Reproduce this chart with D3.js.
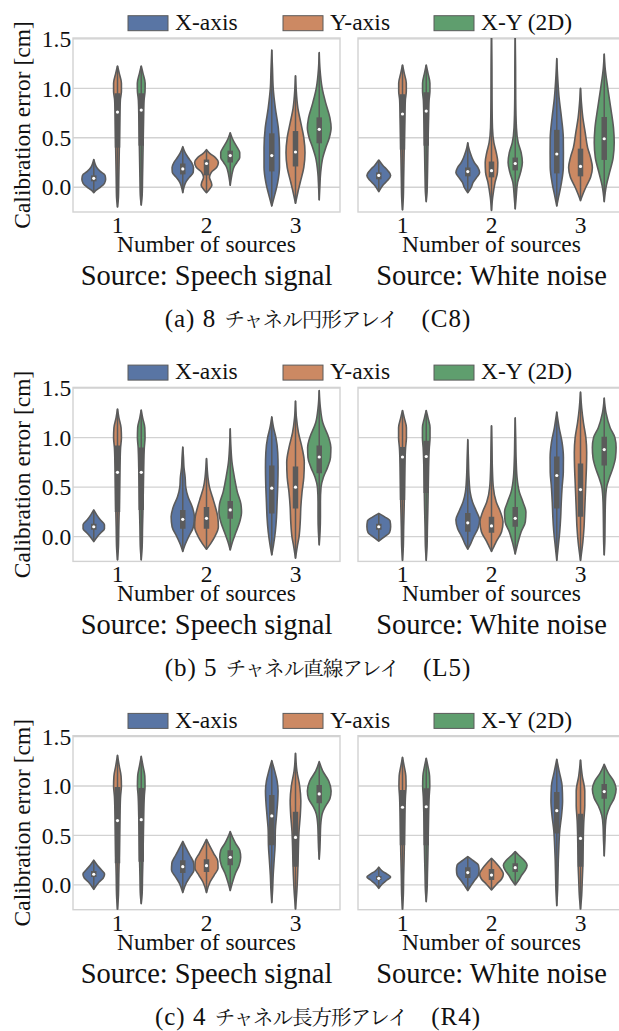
<!DOCTYPE html>
<html><head><meta charset="utf-8">
<script src="https://cdn.jsdelivr.net/npm/d3@7"></script>
<style>
body{margin:0;background:#fff}svg{display:block}
.s{font-family:"Liberation Serif","DejaVu Serif",serif;fill:#111}
.j{font-family:"Noto Serif CJK JP","Noto Sans CJK JP",serif;fill:#111}
</style>
</head><body>
<script>
// ---------------- DATA ----------------
const captions = [
  ["(a) 8 ", "チャネル円形アレイ", "(C8)"],
  ["(b) 5 ", "チャネル直線アレイ", "(L5)"],
  ["(c) 4 ", "チャネル長方形アレイ", "(R4)"]
];
const sources = ["Source: Speech signal", "Source: White noise"];
const categories = ["1", "2", "3"];
const hues = ["X-axis", "Y-axis", "X-Y (2D)"];
const yTicks = [0.0, 0.5, 1.0, 1.5];
const xLabel = "Number of sources";
const yLabel = "Calibration error [cm]";

// each violin: [group, hue, q1, median, q3, density profile [[value, relative width], ...]]
const c8Speech = [
  [0,0,.06,.09,.12,[[.28,0],[.24,.1],[.2,.25],[.16,.55],[.12,.95],[.08,1],[.04,.9],[0,.55],[-.03,.2],[-.055,0]]],
  [0,1,.4,.76,.95,[[1.225,0],[1.15,.15],[1.05,.33],[.97,.33],[.88,.24],[.7,.2],[.5,.17],[.3,.14],[.1,.11],[-.1,.08],[-.2,0]]],
  [0,2,.42,.78,.95,[[1.225,0],[1.15,.15],[1.05,.33],[.97,.32],[.88,.24],[.7,.2],[.5,.17],[.3,.14],[.1,.11],[-.08,.08],[-.18,0]]],
  [1,0,.13,.185,.24,[[.41,0],[.35,.2],[.3,.45],[.25,.75],[.2,.9],[.15,.88],[.1,.55],[.05,.25],[0,.1],[-.055,0]]],
  [1,1,.12,.24,.28,[[.38,0],[.34,.3],[.3,.75],[.25,1],[.2,.85],[.15,.4],[.1,.25],[.05,.4],[.02,.45],[-.02,.25],[-.055,0]]],
  [1,2,.25,.32,.37,[[.55,0],[.5,.15],[.45,.35],[.4,.6],[.35,.8],[.3,.8],[.25,.55],[.2,.3],[.15,.18],[.1,.1],[.02,0]]],
  [2,0,.16,.32,.545,[[1.386,0],[1.2,.06],[1.0,.12],[.8,.3],[.6,.55],[.4,.65],[.2,.65],[.05,.5],[-.1,.2],[-.19,0]]],
  [2,1,.21,.356,.568,[[1.127,0],[1.0,.05],[.8,.2],[.65,.45],[.5,.7],[.35,.8],[.2,.7],[.05,.4],[-.05,.2],[-.162,0]]],
  [2,2,.444,.585,.706,[[1.36,0],[1.2,.06],[1.0,.25],[.85,.55],[.7,.9],[.6,1],[.5,.85],[.4,.55],[.3,.3],[.15,.12],[0,.05],[-.128,0]]]
];
const c8Noise = [
  [0,0,.08,.12,.15,[[.275,0],[.22,.35],[.17,.75],[.12,1],[.07,.75],[.02,.35],[-.045,0]]],
  [0,1,.38,.74,.94,[[1.235,0],[1.15,.15],[1.05,.32],[.97,.32],[.88,.24],[.7,.2],[.5,.16],[.3,.13],[.1,.1],[-.1,.07],[-.23,0]]],
  [0,2,.42,.77,.96,[[1.235,0],[1.15,.15],[1.05,.31],[.97,.31],[.88,.24],[.7,.2],[.5,.16],[.3,.13],[.1,.1],[-.05,.07],[-.145,0]]],
  [1,0,.11,.158,.2,[[.45,0],[.4,.08],[.35,.2],[.3,.35],[.25,.55],[.2,.85],[.15,1],[.1,.75],[.05,.45],[0,.3],[-.055,0]]],
  [1,1,.1,.168,.26,[[1.52,0],[1.2,.03],[.9,.04],[.6,.08],[.45,.2],[.35,.4],[.25,.53],[.15,.5],[.05,.3],[-.1,.1],[-.235,0]]],
  [1,2,.17,.24,.3,[[1.52,0],[1.2,.03],[.9,.04],[.6,.1],[.45,.25],[.35,.5],[.25,.6],[.15,.45],[.05,.2],[-.1,.08],[-.22,0]]],
  [2,0,.14,.336,.58,[[1.3,0],[1.1,.08],[.9,.2],[.7,.4],[.5,.55],[.35,.56],[.2,.55],[.05,.4],[-.1,.15],[-.19,0]]],
  [2,1,.11,.21,.39,[[1.0,0],[.85,.08],[.7,.2],[.55,.4],[.4,.6],[.3,.85],[.2,1],[.1,.85],[0,.45],[-.07,.2],[-.135,0]]],
  [2,2,.276,.49,.71,[[1.346,0],[1.2,.08],[1.0,.3],[.8,.55],[.6,.78],[.45,.84],[.3,.75],[.15,.45],[0,.15],[-.145,0]]]
];
const l5Speech = [
  [0,0,.07,.1,.13,[[.27,0],[.22,.25],[.17,.55],[.12,.9],[.08,.9],[.04,.6],[0,.3],[-.05,0]]],
  [0,1,.25,.65,.92,[[1.29,0],[1.2,.12],[1.1,.3],[1.0,.33],[.9,.26],[.7,.21],[.5,.18],[.3,.15],[.1,.11],[-.1,.08],[-.235,0]]],
  [0,2,.27,.65,.9,[[1.28,0],[1.2,.12],[1.1,.3],[1.0,.32],[.9,.26],[.7,.21],[.5,.18],[.3,.15],[.1,.11],[-.1,.08],[-.235,0]]],
  [1,0,.08,.175,.27,[[.905,0],[.8,.06],[.7,.1],[.6,.2],[.5,.25],[.4,.45],[.3,.8],[.2,.98],[.1,.9],[0,.5],[-.08,.2],[-.15,0]]],
  [1,1,.08,.185,.3,[[.79,0],[.7,.05],[.6,.12],[.5,.25],[.4,.5],[.3,.75],[.2,.95],[.1,1],[0,.7],[-.07,.35],[-.127,0]]],
  [1,2,.18,.27,.36,[[1.09,0],[.9,.06],[.75,.15],[.6,.35],[.45,.6],[.33,.9],[.25,.95],[.15,.8],[.05,.5],[-.05,.2],[-.134,0]]],
  [2,0,.235,.49,.72,[[1.21,0],[1.1,.15],[1.0,.35],[.85,.5],[.7,.53],[.5,.5],[.35,.45],[.2,.4],[.05,.3],[-.08,.15],[-.185,0]]],
  [2,1,.285,.5,.71,[[1.37,0],[1.2,.08],[1.05,.25],[.9,.55],[.75,.74],[.6,.7],[.45,.55],[.3,.45],[.15,.4],[0,.3],[-.1,.15],[-.218,0]]],
  [2,2,.64,.805,.92,[[1.476,0],[1.3,.1],[1.15,.3],[1.0,.8],[.9,.98],[.8,.95],[.7,.7],[.6,.35],[.5,.15],[.35,.1],[.2,.1],[.05,.07],[-.083,0]]]
];
const l5Noise = [
  [0,0,.07,.1,.13,[[.235,0],[.2,.5],[.16,.95],[.1,1],[.04,.9],[0,.5],[-.045,0]]],
  [0,1,.37,.805,.905,[[1.275,0],[1.2,.15],[1.1,.33],[1.0,.33],[.9,.26],[.7,.2],[.5,.17],[.3,.14],[.1,.1],[-.1,.07],[-.24,0]]],
  [0,2,.44,.81,.97,[[1.275,0],[1.2,.15],[1.1,.32],[1.0,.32],[.9,.26],[.7,.2],[.5,.17],[.3,.14],[.1,.1],[-.1,.07],[-.24,0]]],
  [1,0,.05,.14,.24,[[.98,0],[.8,.05],[.6,.1],[.45,.2],[.35,.4],[.25,.75],[.17,1],[.08,.85],[0,.5],[-.07,.25],[-.127,0]]],
  [1,1,.04,.108,.2,[[1.12,0],[.9,.04],[.7,.07],[.5,.15],[.35,.4],[.25,.75],[.15,.97],[.05,.85],[-.05,.4],[-.1,.2],[-.15,0]]],
  [1,2,.1,.185,.3,[[1.2,0],[1.0,.04],[.8,.07],[.6,.15],[.45,.35],[.35,.65],[.25,.9],[.15,.85],[.05,.5],[-.05,.25],[-.175,0]]],
  [2,0,.285,.618,.81,[[1.26,0],[1.1,.2],[.95,.45],[.8,.56],[.65,.55],[.5,.45],[.35,.38],[.2,.33],[.05,.25],[-.1,.12],[-.24,0]]],
  [2,1,.2,.476,.74,[[1.46,0],[1.3,.1],[1.15,.25],[1.0,.45],[.85,.52],[.7,.5],[.55,.45],[.4,.4],[.25,.35],[.1,.3],[-.05,.2],[-.24,0]]],
  [2,2,.72,.88,1.01,[[1.4,0],[1.25,.15],[1.1,.5],[1.0,.9],[.9,1],[.8,.95],[.7,.75],[.6,.45],[.5,.2],[.35,.1],[.15,.07],[-.05,.05],[-.185,0]]]
];
const r4Speech = [
  [0,0,.08,.108,.14,[[.25,0],[.2,.3],[.15,.65],[.11,.91],[.07,.8],[.03,.45],[-.044,0]]],
  [0,1,.22,.65,.99,[[1.31,0],[1.2,.15],[1.1,.3],[1.0,.33],[.9,.26],[.7,.21],[.5,.18],[.3,.15],[.1,.11],[-.1,.08],[-.25,0]]],
  [0,2,.235,.66,.98,[[1.30,0],[1.2,.15],[1.1,.3],[1.0,.32],[.9,.26],[.7,.21],[.5,.18],[.3,.15],[.1,.11],[-.08,.08],[-.19,0]]],
  [1,0,.12,.185,.25,[[.44,0],[.38,.25],[.3,.6],[.22,.92],[.15,.95],[.08,.6],[.02,.3],[-.077,0]]],
  [1,1,.13,.195,.26,[[.46,0],[.4,.25],[.32,.6],[.24,.95],[.17,.97],[.1,.65],[.03,.3],[-.077,0]]],
  [1,2,.2,.28,.35,[[.54,0],[.48,.2],[.42,.45],[.35,.8],[.28,.88],[.2,.75],[.12,.45],[.05,.25],[-.057,0]]],
  [2,0,.4,.697,.91,[[1.256,0],[1.15,.25],[1.05,.45],[.95,.53],[.85,.5],[.7,.4],[.55,.3],[.4,.28],[.25,.2],[.1,.12],[-.05,.07],[-.178,0]]],
  [2,1,.185,.48,.74,[[1.33,0],[1.15,.12],[1.0,.35],[.85,.45],[.7,.4],[.55,.3],[.4,.25],[.25,.22],[.1,.18],[-.05,.12],[-.246,0]]],
  [2,2,.825,.92,1.01,[[1.246,0],[1.15,.3],[1.05,.8],[.95,1],[.87,.9],[.8,.55],[.72,.25],[.6,.12],[.45,.08],[.35,.05],[.26,0]]]
];
const r4Noise = [
  [0,0,.05,.067,.09,[[.18,0],[.14,.3],[.11,.7],[.08,1],[.05,.7],[.01,.3],[-.034,0]]],
  [0,1,.4,.785,.96,[[1.29,0],[1.2,.14],[1.1,.28],[1.0,.3],[.9,.25],[.7,.2],[.5,.17],[.3,.14],[.1,.1],[-.1,.07],[-.25,0]]],
  [0,2,.4,.79,.976,[[1.28,0],[1.2,.14],[1.1,.28],[1.0,.3],[.9,.25],[.7,.2],[.5,.17],[.3,.14],[.1,.1],[-.05,.07],[-.17,0]]],
  [1,0,.07,.125,.18,[[.286,0],[.25,.4],[.2,.9],[.15,.95],[.1,.9],[.05,.6],[0,.3],[-.057,0]]],
  [1,1,.05,.1,.16,[[.27,0],[.22,.4],[.16,.8],[.11,1],[.06,.85],[.01,.45],[-.05,0]]],
  [1,2,.13,.175,.22,[[.337,0],[.3,.3],[.25,.75],[.2,1],[.15,.85],[.1,.55],[.05,.3],[0,0]]],
  [2,0,.52,.75,.94,[[1.27,0],[1.15,.2],[1.0,.45],[.85,.49],[.7,.4],[.55,.25],[.4,.18],[.25,.13],[.1,.1],[-.05,.07],[-.21,0]]],
  [2,1,.185,.47,.72,[[1.263,0],[1.1,.15],[.95,.36],[.8,.36],[.65,.28],[.5,.24],[.35,.22],[.2,.2],[.05,.15],[-.1,.1],[-.246,0]]],
  [2,2,.87,.943,1.02,[[1.22,0],[1.13,.35],[1.05,.8],[.97,1],[.88,.85],[.8,.5],[.7,.2],[.6,.1],[.45,.06],[.293,0]]]
];
const panelData = [[c8Speech, c8Noise], [l5Speech, l5Noise], [r4Speech, r4Noise]];

// ---------------- LAYOUT / STYLE ----------------
const W = 619, H = 1031;
const colors = ["#5975a4", "#cc8963", "#5f9e6e"];
const gray = "#5b5b5b";
const gridColor = "#d2d2d2";
const panelLeft = [73, 358], panelW = 267, panelH = 174;
const rowTop = [38, 387.4, 735.7];

const svg = d3.select("body").append("svg").attr("width", W).attr("height", H)
  .attr("viewBox", `0 0 ${W} ${H}`);
const defs = svg.append("defs");

rowTop.forEach((top, r) => {
  const y = d3.scaleLinear().domain([-0.25, 1.508]).range([top + panelH, top]);

  // legend
  const legX = [128, 283, 434];
  hues.forEach((h, i) => {
    svg.append("rect").attr("x", legX[i]).attr("y", top - 22.3).attr("width", 40).attr("height", 15)
      .attr("fill", colors[i]).attr("stroke", gray).attr("stroke-width", 1);
    svg.append("text").attr("class", "s").attr("x", legX[i] + 47).attr("y", top - 8)
      .style("font-size", "23.5px").text(h);
  });

  [0, 1].forEach(p => {
    const L = panelLeft[p];
    const x = d3.scaleBand().domain(categories).range([L, L + panelW]);
    const sub = d3.scaleBand().domain(hues).range([-0.4 * x.bandwidth(), 0.4 * x.bandwidth()]);
    const wS = d3.scaleLinear().domain([0, 1]).range([0, sub.bandwidth() / 2]);
    const g = svg.append("g");

    g.selectAll(null).data(yTicks).join("line")
      .attr("x1", L).attr("x2", L + panelW).attr("y1", d => y(d)).attr("y2", d => y(d))
      .attr("stroke", gridColor).attr("stroke-width", 1.3);
    g.append("rect").attr("x", L).attr("y", top).attr("width", panelW).attr("height", panelH)
      .attr("fill", "none").attr("stroke", gridColor).attr("stroke-width", 1.4);

    if (p === 0) {
      g.selectAll(null).data(yTicks).join("text").attr("class", "s")
        .attr("x", L - 1.8).attr("y", d => y(d)).attr("dy", "0.35em").attr("text-anchor", "end")
        .style("font-size", "23.5px").text(d => d.toFixed(1));
      svg.append("text").attr("class", "s")
        .attr("transform", `translate(30,${top + panelH / 2}) rotate(-90)`)
        .attr("text-anchor", "middle").style("font-size", "23.5px").text(yLabel);
    }
    g.selectAll(null).data(categories).join("text").attr("class", "s")
      .attr("x", d => x(d) + x.bandwidth() / 2).attr("y", top + 195)
      .attr("text-anchor", "middle").style("font-size", "23.5px").text(d => d);
    g.append("text").attr("class", "s").attr("x", L + panelW / 2).attr("y", top + 214)
      .attr("text-anchor", "middle").style("font-size", "23.5px").text(xLabel);
    g.append("text").attr("class", "s").attr("x", L + panelW / 2).attr("y", top + 247)
      .attr("text-anchor", "middle").style("font-size", "28.5px").text(sources[p]);

    const cid = `clip${r}${p}`;
    defs.append("clipPath").attr("id", cid).append("rect")
      .attr("x", L).attr("y", top).attr("width", panelW).attr("height", panelH);
    const vg = svg.append("g").attr("clip-path", `url(#${cid})`);

    panelData[r][p].forEach(([gi, hi, q1, med, q3, prof]) => {
      const cx = x(categories[gi]) + x.bandwidth() / 2 + sub(hues[hi]) + sub.bandwidth() / 2;
      const pts = prof.slice().sort((a, b) => a[0] - b[0]);
      const area = d3.area().y(d => y(d[0])).x0(d => cx - wS(d[1])).x1(d => cx + wS(d[1]))
        .curve(d3.curveMonotoneY);
      vg.append("path").attr("d", area(pts)).attr("fill", colors[hi])
        .attr("stroke", gray).attr("stroke-width", 1.6).attr("stroke-linejoin", "round");
      const lo = pts[0][0], hiV = pts[pts.length - 1][0];
      vg.append("line").attr("x1", cx).attr("x2", cx).attr("y1", y(lo)).attr("y2", y(hiV))
        .attr("stroke", gray).attr("stroke-width", 1.5);
      vg.append("line").attr("x1", cx).attr("x2", cx).attr("y1", y(q1)).attr("y2", y(q3))
        .attr("stroke", gray).attr("stroke-width", 5.5);
      vg.append("circle").attr("cx", cx).attr("cy", y(med)).attr("r", 1.6).attr("fill", "#fff");
    });
  });

  const cap = svg.append("text").attr("x", 318).attr("y", top + 289).attr("text-anchor", "middle");
  cap.append("tspan").attr("class", "s").style("font-size", "25px").style("letter-spacing", "1px")
    .text(captions[r][0]);
  cap.append("tspan").attr("class", "j").style("font-size", "20.5px").style("letter-spacing", "-1px")
    .attr("dx", 1).text(captions[r][1]);
  cap.append("tspan").attr("class", "s").style("font-size", "25px").style("letter-spacing", "1px")
    .attr("dx", 24).text(captions[r][2]);
});
</script>
</body></html>
